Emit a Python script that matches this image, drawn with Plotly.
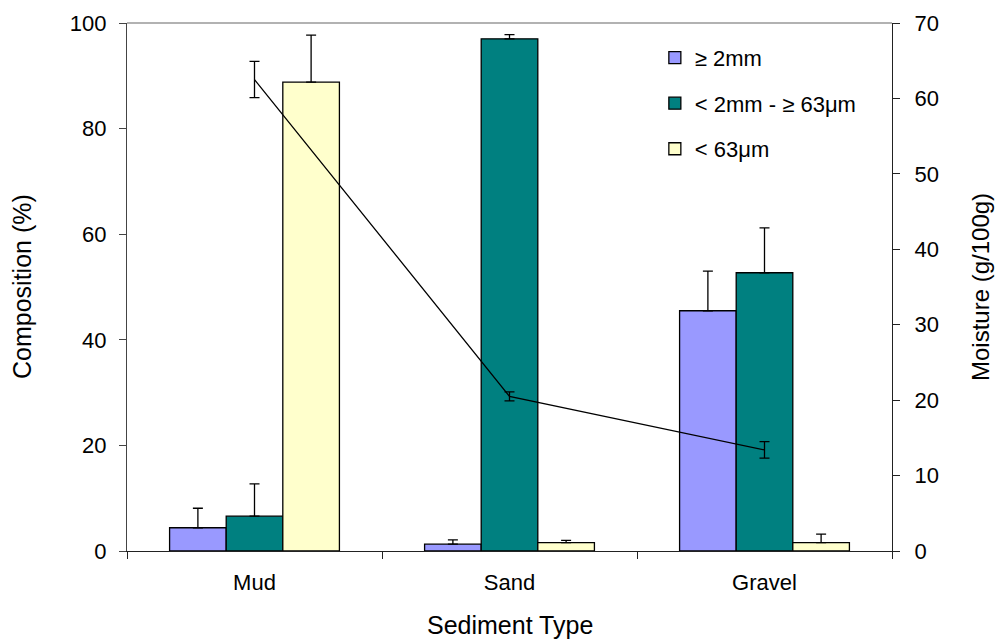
import plotly.graph_objects as go

categories = ["Mud", "Sand", "Gravel"]
coarse = [4.4, 1.3, 45.5]
coarse_err = [3.7, 0.8, 7.5]
medium = [6.6, 97.0, 52.7]
medium_err = [6.1, 0.8, 8.5]
fine = [88.8, 1.6, 1.6]
fine_err = [8.9, 0.4, 1.6]
moisture = [62.5, 20.5, 13.4]
moisture_err = [2.4, 0.6, 1.1]

names = ["≥ 2mm", "< 2mm - ≥ 63μm", "< 63μm"]
colors = ["#9999FF", "#008080", "#FFFFCC"]
FONT = "Liberation Sans, Arial, sans-serif"

fig = go.Figure()
for i, (vals, errs) in enumerate([(coarse, coarse_err), (medium, medium_err), (fine, fine_err)]):
    fig.add_trace(go.Bar(
        x=categories, y=vals, name=names[i], legendgroup=f"g{i}",
        marker=dict(color=colors[i], line=dict(color="black", width=1.3)),
        error_y=dict(type="data", symmetric=False, array=errs, arrayminus=[0] * len(errs),
                     color="black", thickness=1.3, width=5),
        yaxis="y",
    ))

fig.add_trace(go.Scatter(
    x=categories, y=moisture, mode="lines", showlegend=False,
    line=dict(color="black", width=1.3),
    error_y=dict(type="data", array=moisture_err, color="black", thickness=1.3, width=5),
    yaxis="y2",
))

fig.update_layout(
    width=995, height=639,
    margin=dict(l=127, r=103, t=23, b=88),
    paper_bgcolor="white", plot_bgcolor="white",
    font=dict(family=FONT, size=22, color="black"),
    barmode="group", bargap=0.334, bargroupgap=0,
    showlegend=True,
    legend=dict(x=0.69, y=0.974, xanchor="left", yanchor="top",
                bgcolor="rgba(0,0,0,0)", font=dict(size=22), tracegroupgap=14,
                itemwidth=30),
    xaxis=dict(showline=True, linecolor="#222", linewidth=1.3, ticks="outside",
               tickson="boundaries", ticklen=7, tickcolor="#222", showgrid=False,
               ticklabelstandoff=11, tickfont=dict(size=22)),
    yaxis=dict(range=[0, 100], dtick=20, showline=True, linecolor="#444", linewidth=1.3,
               ticks="outside", ticklen=7, tickcolor="#444", showgrid=False, zeroline=False,
               ticklabelstandoff=8, tickfont=dict(size=22)),
    yaxis2=dict(range=[0, 70], dtick=10, overlaying="y", side="right", showline=True,
                linecolor="#222", linewidth=1.3, ticks="outside", ticklen=7, tickcolor="#222",
                showgrid=False, zeroline=False, ticklabelstandoff=10, tickfont=dict(size=22)),
    shapes=[dict(type="line", xref="paper", yref="paper", x0=0, x1=1, y0=1, y1=1,
                 line=dict(color="#999", width=1.3))],
    annotations=[
        dict(text="Composition (%)", xref="paper", yref="paper", x=0, y=0.5, xshift=-105,
             textangle=-90, showarrow=False, font=dict(size=25), xanchor="center", yanchor="middle"),
        dict(text="Moisture (g/100g)", xref="paper", yref="paper", x=1, y=0.5, xshift=88,
             textangle=-90, showarrow=False, font=dict(size=24), xanchor="center", yanchor="middle"),
        dict(text="Sediment Type", xref="paper", yref="paper", x=0.5, y=0, yshift=-74,
             showarrow=False, font=dict(size=25), xanchor="center", yanchor="middle"),
    ],
)

fig.write_html("out.html")
